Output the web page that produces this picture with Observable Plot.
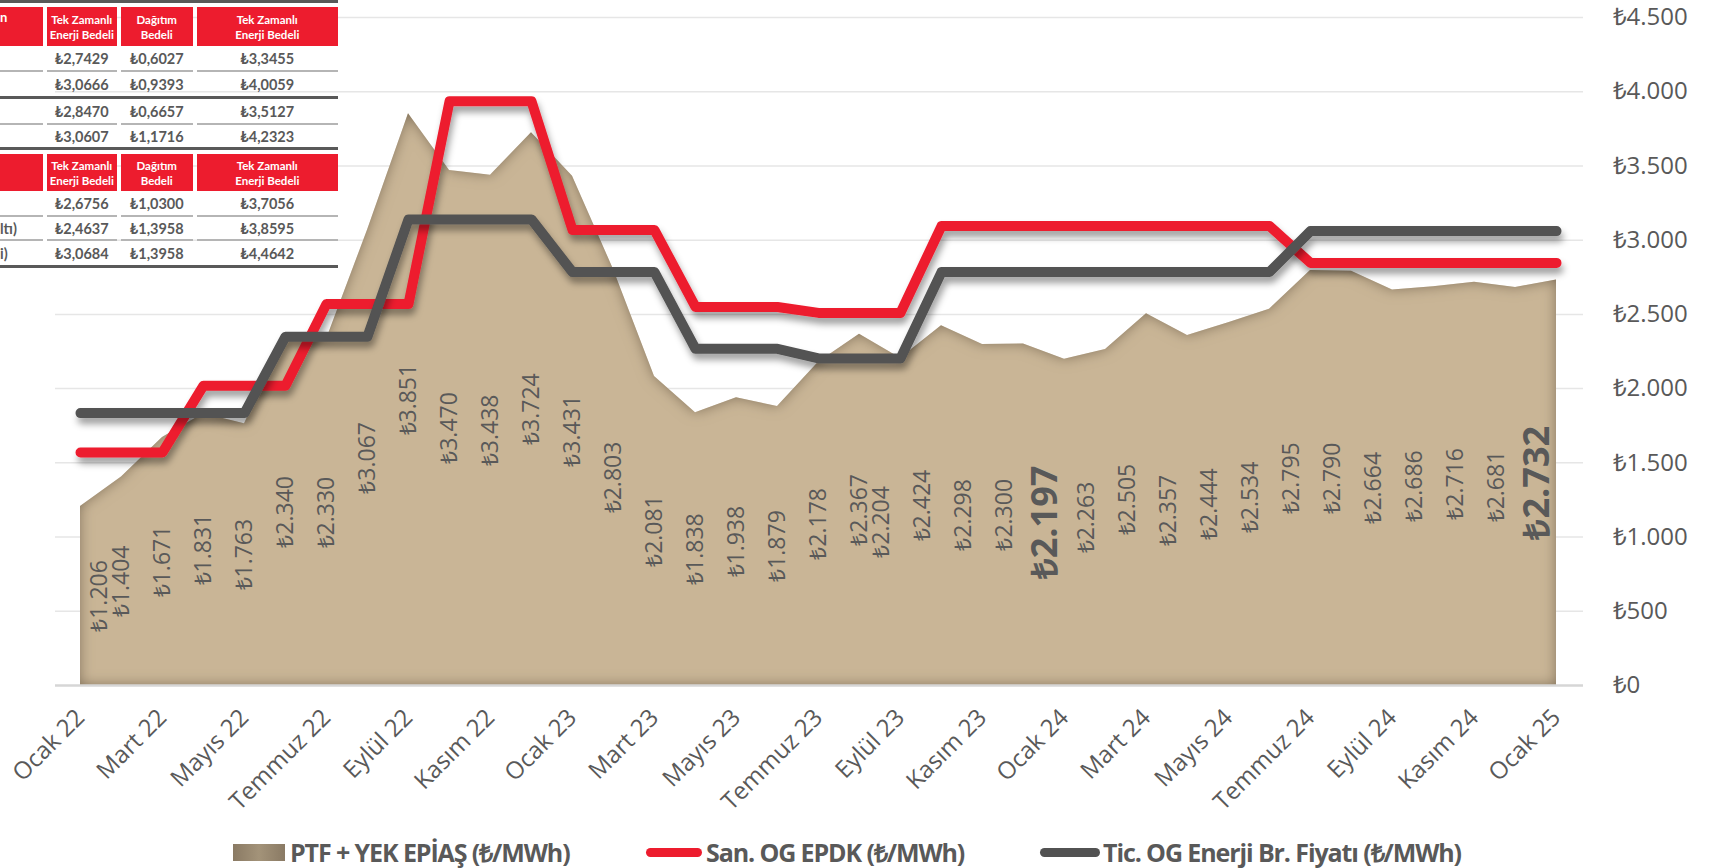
<!DOCTYPE html>
<html>
<head>
<meta charset="utf-8">
<script src="https://cdn.jsdelivr.net/npm/d3@7"></script>
<script src="https://cdn.jsdelivr.net/npm/@observablehq/plot@0.6"></script>
<style>
  html, body { margin: 0; padding: 0; background: #ffffff; }
  #wrap { position: relative; width: 1716px; height: 868px; overflow: hidden; background: #fff; }
  #chart { position: absolute; left: 0; top: 0; }
  #table { position: absolute; left: 0; top: 0; width: 338px; height: 270px; font-family: Lato, "Open Sans", sans-serif; }
  #table div { position: absolute; box-sizing: border-box; }
  .hdr { background: #ED1C2E; color: #fff; font-weight: bold; font-size: 11.5px; line-height: 15px; display: flex; flex-direction: column; align-items: center; justify-content: center; text-align: center; }
  .val { color: #595959; font-weight: bold; font-size: 14.5px; display: flex; align-items: center; justify-content: center; white-space: nowrap; }
  .frag { color: #595959; font-weight: bold; font-size: 14.5px; white-space: nowrap; display: flex; align-items: center; }
  .thin { background: #B5B5B5; }
  .thick { background: #595959; }
  #legend { position: absolute; left: 0; top: 839px; width: 1716px; height: 27px; font-family: "Open Sans", sans-serif; font-weight: bold; font-size: 25px; letter-spacing: -1.1px; color: #595959; }
  #legend .item { position: absolute; top: 0; height: 27px; display: flex; align-items: center; white-space: nowrap; }
  #legend .item span { line-height: 27px; }
</style>
</head>
<body>
<div id="wrap">
  <div id="chart"></div>
  <div id="table"></div>
  <div id="legend"></div>
</div>
<script>
// ---------------- DATA ----------------
const categories = [
  "Ocak 22","Şubat 22","Mart 22","Nisan 22","Mayıs 22","Haziran 22","Temmuz 22","Ağustos 22","Eylül 22","Ekim 22","Kasım 22","Aralık 22",
  "Ocak 23","Şubat 23","Mart 23","Nisan 23","Mayıs 23","Haziran 23","Temmuz 23","Ağustos 23","Eylül 23","Ekim 23","Kasım 23","Aralık 23",
  "Ocak 24","Şubat 24","Mart 24","Nisan 24","Mayıs 24","Haziran 24","Temmuz 24","Ağustos 24","Eylül 24","Ekim 24","Kasım 24","Aralık 24",
  "Ocak 25"
];
// PTF + YEK EPİAŞ (₺/MWh)
const ptf = [1206,1404,1671,1831,1763,2340,2330,3067,3851,3470,3438,3724,
             3431,2803,2081,1838,1938,1879,2178,2367,2204,2424,2298,2300,
             2197,2263,2505,2357,2444,2534,2795,2790,2664,2686,2716,2681,
             2732];
// San. OG EPDK (₺/MWh)
const sanOG = [1570,1570,1570,2020,2020,2020,2570,2570,2570,3935,3935,3935,
               3068,3068,3068,2550,2550,2550,2510,2510,2510,3095,3095,3095,
               3095,3095,3095,3095,3095,3095,2847,2847,2847,2847,2847,2847,
               2847];
// Tic. OG Enerji Br. Fiyatı (₺/MWh)
const ticOG = [1835,1835,1835,1835,1835,2350,2350,2350,3140,3140,3140,3140,
               2785,2785,2785,2268,2268,2268,2203,2203,2203,2785,2785,2785,
               2785,2785,2785,2785,2785,2785,3061,3061,3061,3061,3061,3061,
               3061];
const xTickLabels = ["Ocak 22","Mart 22","Mayıs 22","Temmuz 22","Eylül 22","Kasım 22","Ocak 23","Mart 23","Mayıs 23","Temmuz 23",
                     "Eylül 23","Kasım 23","Ocak 24","Mart 24","Mayıs 24","Temmuz 24","Eylül 24","Kasım 24","Ocak 25"];
const yTicks = [0,500,1000,1500,2000,2500,3000,3500,4000,4500];
const boldLabels = ["Ocak 24","Ocak 25"];
const seriesNames = ["PTF + YEK EPİAŞ (₺/MWh)","San. OG EPDK (₺/MWh)","Tic. OG Enerji Br. Fiyatı (₺/MWh)"];
const colors = { ptf: "#C9B596", san: "#ED1C2E", tic: "#525252", text: "#595959" };

// table overlay data
const tableHeader = [["Tek Zamanlı","Enerji Bedeli"],["Dağıtım","Bedeli"],["Tek Zamanlı","Enerji Bedeli"]];
const tableGroup1 = [["₺2,7429","₺0,6027","₺3,3455"],["₺3,0666","₺0,9393","₺4,0059"],["₺2,8470","₺0,6657","₺3,5127"],["₺3,0607","₺1,1716","₺4,2323"]];
const tableGroup2 = [["₺2,6756","₺1,0300","₺3,7056"],["₺2,4637","₺1,3958","₺3,8595"],["₺3,0684","₺1,3958","₺4,4642"]];
const tableGroup2Labels = ["", "ltı)", "i)"];
const tableGroup1HeaderLabel = "n";

// ---------------- CHART ----------------
const tr = d3.formatLocale({decimal: ",", thousands: ".", grouping: [3], currency: ["₺", ""]});
const fmt = tr.format("$,");
const rows = categories.map((c, i) => ({c, i, ptf: ptf[i], san: sanOG[i], tic: ticOG[i]}));
const H = 800;

const chart = Plot.plot({
  width: 1716,
  height: H,
  marginTop: 17,
  marginBottom: H - 685,
  marginLeft: 74,
  marginRight: 154,
  style: {fontFamily: "'Open Sans', sans-serif", fontSize: "24px", color: colors.text, background: "transparent", overflow: "visible"},
  x: {type: "point", domain: categories, padding: 0, axis: null},
  y: {domain: [0, 4500], axis: "right", ticks: yTicks, tickFormat: fmt, tickSize: 0, tickPadding: 50, label: null},
  marks: [
    Plot.ruleY(yTicks.filter(t => t > 0), {stroke: "#E6E6E6", strokeWidth: 1.5, insetLeft: -19, insetRight: -21}),
    Plot.areaY(rows, {x: "c", y: "ptf", fill: colors.ptf}),
    Plot.ruleY([0], {stroke: "#D6D6D6", strokeWidth: 2.5, insetLeft: -19, insetRight: -21}),
    // data labels (centred in the area)
    Plot.text(rows.filter(d => d.i === 0), {x: "c", y: d => d.ptf / 2, text: d => fmt(d.ptf), rotate: -90, fontSize: 23, fill: colors.text, dx: 19}),
    Plot.text(rows.filter(d => d.i > 0 && d.i < 20), {x: "c", y: d => d.ptf / 2, text: d => fmt(d.ptf), rotate: -90, fontSize: 23, fill: colors.text}),
    Plot.text(rows.filter(d => d.i >= 20 && !boldLabels.includes(d.c)), {x: "c", y: d => d.ptf / 2, text: d => fmt(d.ptf), rotate: -90, fontSize: 23, fill: colors.text, dx: -19}),
    Plot.text(rows.filter(d => boldLabels.includes(d.c)), {x: "c", y: d => d.ptf / 2, text: d => fmt(d.ptf), rotate: -90, fontSize: 36, fontWeight: "bold", fill: colors.text, dx: -19}),
    Plot.line(rows, {x: "c", y: "san", stroke: colors.san, strokeWidth: 10, strokeLinecap: "round", strokeLinejoin: "round"}),
    Plot.line(rows, {x: "c", y: "tic", stroke: colors.tic, strokeWidth: 10, strokeLinecap: "round", strokeLinejoin: "round"}),
    // x tick labels
    Plot.text(xTickLabels, {x: d => d, y: () => 0, text: d => d, rotate: -45, textAnchor: "end", fontSize: 24, fill: colors.text, dx: 0, dy: 28})
  ]
});
document.getElementById("chart").appendChild(chart);

// shading filters
const svg = d3.select(chart.tagName.toLowerCase() === "svg" ? chart : chart.querySelector("svg"));
svg.insert("defs", ":first-child").html(`
  <filter id="areaShade" x="-2%" y="-5%" width="104%" height="110%">
    <feFlood flood-color="#6b5b45" flood-opacity="0.9" result="f"/>
    <feComposite in="f" in2="SourceAlpha" operator="out" result="outside"/>
    <feGaussianBlur in="outside" stdDeviation="7" result="blur"/>
    <feComposite in="blur" in2="SourceAlpha" operator="in" result="inner"/>
    <feMerge><feMergeNode in="SourceGraphic"/><feMergeNode in="inner"/></feMerge>
  </filter>
  <filter id="lineShadow" x="-3%" y="-20%" width="106%" height="150%">
    <feDropShadow dx="2" dy="6" stdDeviation="3.5" flood-color="#000" flood-opacity="0.38"/>
  </filter>`);
svg.selectAll('g[aria-label="area"]').attr("filter", "url(#areaShade)");
svg.selectAll('g[aria-label="line"]').attr("filter", "url(#lineShadow)");

// ---------------- TABLE OVERLAY ----------------
const tbl = document.getElementById("table");
const cols = [[0, 43], [46.5, 117], [120.5, 193], [196.5, 338]];
function box(cls, x, y, w, h, html) {
  const d = document.createElement("div");
  d.className = cls;
  Object.assign(d.style, {left: x + "px", top: y + "px", width: w + "px", height: h + "px"});
  if (html != null) d.innerHTML = html;
  tbl.appendChild(d);
  return d;
}
function header(top, h, firstLabel) {
  cols.forEach(([a, b], j) => {
    const d = box("hdr", a, top, b - a, h, j === 0 ? "" : tableHeader[j - 1].map(s => `<span>${s}</span>`).join(""));
    if (j === 0 && firstLabel) {
      const s = document.createElement("span");
      s.textContent = firstLabel;
      Object.assign(s.style, {position: "absolute", left: "0px", top: "3px", fontSize: "13px"});
      d.appendChild(s);
    }
  });
}
function valueRow(top, h, vals, label, rule) {
  cols.forEach(([a, b], j) => {
    if (j === 0) {
      const d = box("frag", a, top, b - a, h, label || "");
      d.style.justifyContent = "flex-start";
    } else box("val", a, top, b - a, h, vals[j - 1]);
  });
  if (rule === "thin") cols.forEach(([a, b]) => box("thin", a, top + h, b - a, 2));
  if (rule === "thick") box("thick", 0, top + h, 338, 3);
}
box("thick", 0, 0, 338, 3);
header(7, 39, tableGroup1HeaderLabel);
const g1Tops = [[46, 24, "thin"], [72, 24, "thick"], [99, 24, "thin"], [125, 22, "thick"]];
tableGroup1.forEach((r, k) => valueRow(g1Tops[k][0], g1Tops[k][1], r, "", g1Tops[k][2]));
header(154, 37, null);
const g2Tops = [[191, 24, "thin"], [217, 22, "thin"], [241, 24, "thick"]];
tableGroup2.forEach((r, k) => valueRow(g2Tops[k][0], g2Tops[k][1], r, tableGroup2Labels[k], g2Tops[k][2]));

// ---------------- LEGEND ----------------
const leg = document.getElementById("legend");
const legItems = [
  {x: 233, sw: `<div style="width:52px;height:17px;background:linear-gradient(90deg,#8a7a64,#a39379 50%,#8a7a64);margin-right:5px"></div>`},
  {x: 646, sw: `<div style="width:56px;height:9px;border-radius:5px;background:${colors.san};margin-right:4px"></div>`},
  {x: 1040, sw: `<div style="width:60px;height:9px;border-radius:5px;background:${colors.tic};margin-right:3px"></div>`}
];
legItems.forEach((it, k) => {
  const d = document.createElement("div");
  d.className = "item";
  d.style.left = it.x + "px";
  d.innerHTML = it.sw + `<span>${seriesNames[k]}</span>`;
  leg.appendChild(d);
});
</script>
</body>
</html>
